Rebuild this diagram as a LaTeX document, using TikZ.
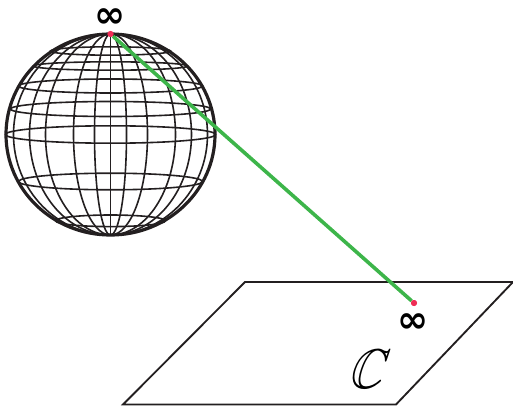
\documentclass[tikz,border=0pt]{standalone}
\usepackage{amsmath}
\usepackage{amssymb}
\usepackage{fontspec}
\newfontfamily\inffont{DejaVu Sans}
\definecolor{ink}{HTML}{231F20}
\definecolor{linkgreen}{HTML}{3DB54A}
\definecolor{polered}{HTML}{EE2D55}
\tikzset{
  meridian/.style={draw=ink,line width=1.2pt},
  parallel/.style={draw=ink,line width=1.2pt},
  rim/.style={draw=ink,line width=2.4pt},
  plane/.style={draw=ink,line width=1.4pt},
  link/.style={draw=linkgreen,line width=2.7pt},
  pole/.style={circle,fill=polered,inner sep=0pt,minimum size=4.5pt},
  inflabel/.style={font=\inffont\bfseries\fontsize{28}{28}\selectfont,text=black,inner sep=0pt,text height=15pt,text depth=0pt,anchor=base}
}
\begin{document}
\begin{tikzpicture}[x=0.75pt,y=-0.75pt]
\useasboundingbox (0,0) rectangle (513,406);
% meridians
\foreach \r in {16,37,65,81,97}{
  \draw[meridian] (110.5,134.5) ellipse [x radius=\r,y radius=100.5];
}
\draw[meridian] (110.5,34) -- (110.5,235);
% parallels
\foreach \c/\h/\w in {51/4.2/60, 66/4.2/77, 86/7/92, 109/7.5/100, 134.5/8.7/105, 181.5/8.3/92, 220.8/5.8/55}{
  \draw[parallel] (110.5,\c) ellipse [x radius=\w,y radius=\h];
}
% outline
\draw[rim] (110.5,134.5) ellipse [x radius=104.5,y radius=100.5];
% plane
\draw[plane] (245,282) -- (513,282) -- (396,404.5) -- (123,404.5) -- cycle;
% poles and link
\node[pole] (north) at (110.5,34) {};
\node[pole] (south) at (414,303) {};
\draw[link] (north) -- (south);
\node[pole] at (north) {};
\node[pole] at (south) {};
\node[inflabel] (inftop) at (110.5,28) {∞};
\node[inflabel] (infbot) at (413,332) {∞};
\node[font=\fontsize{42}{42}\selectfont,inner sep=0pt,xscale=0.85,xslant=0.4,transform shape] (cc) at (370,369) {$\mathbb{C}$};
\end{tikzpicture}
\end{document}
